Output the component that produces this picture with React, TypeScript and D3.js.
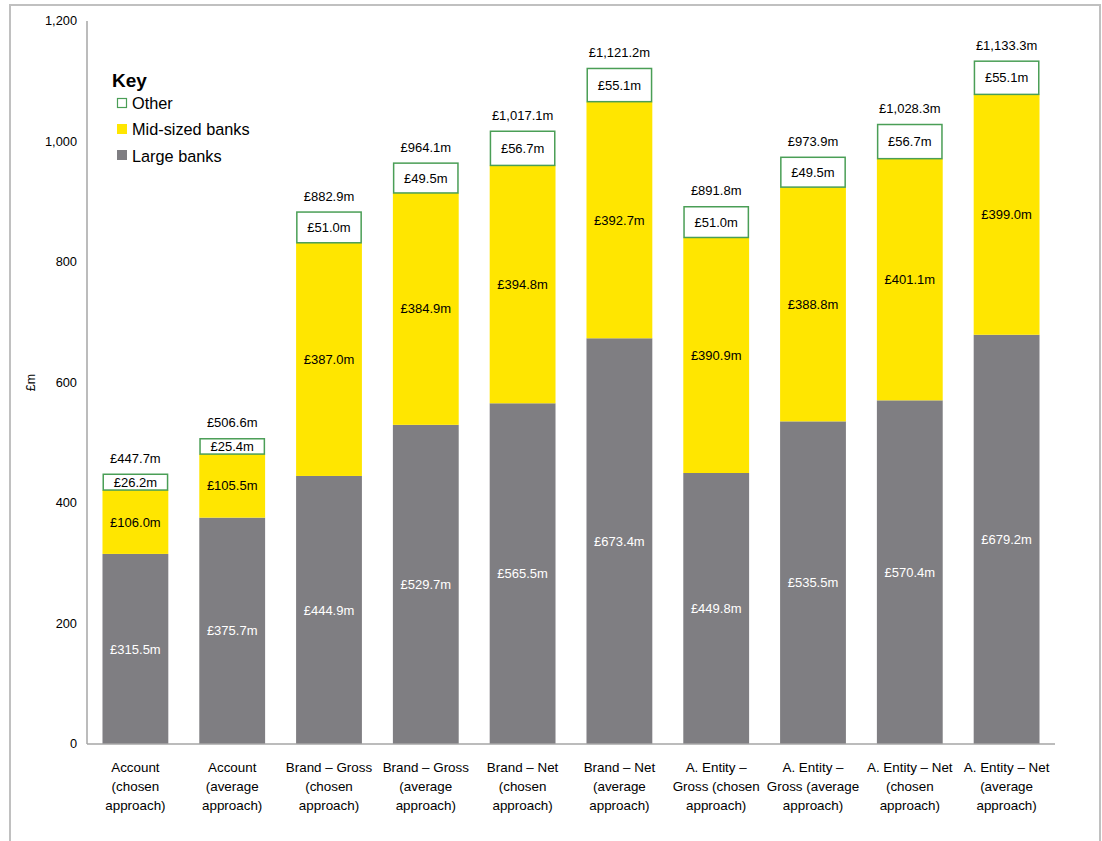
import React from "react";
import * as d3 from "d3";

const categories: string[][] = [
  ["Account", "(chosen", "approach)"],
  ["Account", "(average", "approach)"],
  ["Brand – Gross", "(chosen", "approach)"],
  ["Brand – Gross", "(average", "approach)"],
  ["Brand – Net", "(chosen", "approach)"],
  ["Brand – Net", "(average", "approach)"],
  ["A. Entity –", "Gross (chosen", "approach)"],
  ["A. Entity –", "Gross (average", "approach)"],
  ["A. Entity – Net", "(chosen", "approach)"],
  ["A. Entity – Net", "(average", "approach)"],
];
const largeBanks = [315.5, 375.7, 444.9, 529.7, 565.5, 673.4, 449.8, 535.5, 570.4, 679.2];
const midBanks = [106.0, 105.5, 387.0, 384.9, 394.8, 392.7, 390.9, 388.8, 401.1, 399.0];
const other = [26.2, 25.4, 51.0, 49.5, 56.7, 55.1, 51.0, 49.5, 56.7, 55.1];
const totals = [447.7, 506.6, 882.9, 964.1, 1017.1, 1121.2, 891.8, 973.9, 1028.3, 1133.3];
const yTicks = [0, 200, 400, 600, 800, 1000, 1200];

const GRAY = "#7f7e82";
const YELLOW = "#ffe600";
const GREEN = "#4a9e56";
const FONT = "'Liberation Sans', Arial, sans-serif";

export default function App() {
  const W = 1102, H = 841;
  const x0 = 87, x1 = 1055, yTop = 21, yBottom = 744;
  const x = d3.scaleBand<number>().domain(d3.range(categories.length)).range([x0, x1]).paddingInner(0.32).paddingOuter(0.16);
  const y = d3.scaleLinear().domain([0, 1200]).range([yBottom, yTop]);
  const fmt = (v: number) => "£" + d3.format(",.1f")(v) + "m";
  const bw = x.bandwidth();

  return (
    <svg width={W} height={H} style={{ position: "absolute", left: 0, top: 0, fontFamily: FONT }}>
      <rect x={0} y={0} width={W} height={H} fill="#fff" />
      <rect x={10} y={5} width={1090} height={H + 10} fill="none" stroke="#c0c0c0" strokeWidth={2} />
      {/* y axis */}
      <line x1={x0} x2={x0} y1={yTop} y2={yBottom} stroke="#a6a6a6" strokeWidth={1.5} />
      {yTicks.map((t) => (
        <text key={t} x={77} y={y(t)} dy="0.35em" textAnchor="end" fontSize={12.8} fill="#000">
          {d3.format(",")(t)}
        </text>
      ))}
      <text transform={`translate(35,${(yTop + yBottom) / 2}) rotate(-90)`} textAnchor="middle" fontSize={12.5} fill="#000">£m</text>

      {categories.map((c, i) => {
        const bx = x(i)!;
        const cx = bx + bw / 2;
        const l = largeBanks[i], m = midBanks[i], o = other[i];
        return (
          <g key={i}>
            <rect x={bx} y={y(l)} width={bw} height={y(0) - y(l)} fill={GRAY} />
            <rect x={bx} y={y(l + m)} width={bw} height={y(l) - y(l + m)} fill={YELLOW} />
            <rect x={bx + 0.75} y={y(l + m + o)} width={bw - 1.5} height={y(l + m) - y(l + m + o)} fill="#fff" stroke={GREEN} strokeWidth={1.5} />
            <text x={cx} y={y(l / 2)} dy="0.35em" textAnchor="middle" fontSize={13} fill="#fff">{fmt(l)}</text>
            <text x={cx} y={y(l + m / 2)} dy="0.35em" textAnchor="middle" fontSize={13} fill="#000">{fmt(m)}</text>
            <text x={cx} y={y(l + m + o / 2)} dy="0.35em" textAnchor="middle" fontSize={13} fill="#000">{fmt(o)}</text>
            <text x={cx} y={y(totals[i]) - 16} dy="0.35em" textAnchor="middle" fontSize={13} fill="#000">{fmt(totals[i])}</text>
            {c.map((line, k) => (
              <text key={k} x={cx} y={767 + k * 19} dy="0.35em" textAnchor="middle" fontSize={13.4} fill="#000">{line}</text>
            ))}
          </g>
        );
      })}
      <line x1={x0} x2={x1} y1={yBottom} y2={yBottom} stroke="#a6a6a6" strokeWidth={1.5} />

      {/* legend */}
      <g>
        <text x={112} y={80} dy="0.35em" fontSize={19} fontWeight="bold" fill="#000">Key</text>
        <rect x={117.5} y={98.5} width={9} height={9} fill="#fff" stroke={GREEN} strokeWidth={1.2} />
        <text x={132} y={103} dy="0.35em" fontSize={16.3} fill="#000">Other</text>
        <rect x={117} y={124} width={10} height={10} fill={YELLOW} />
        <text x={132} y={129} dy="0.35em" fontSize={16.3} fill="#000">Mid-sized banks</text>
        <rect x={117} y={150} width={10} height={10} fill={GRAY} />
        <text x={132} y={156} dy="0.35em" fontSize={16.3} fill="#000">Large banks</text>
      </g>
    </svg>
  );
}
